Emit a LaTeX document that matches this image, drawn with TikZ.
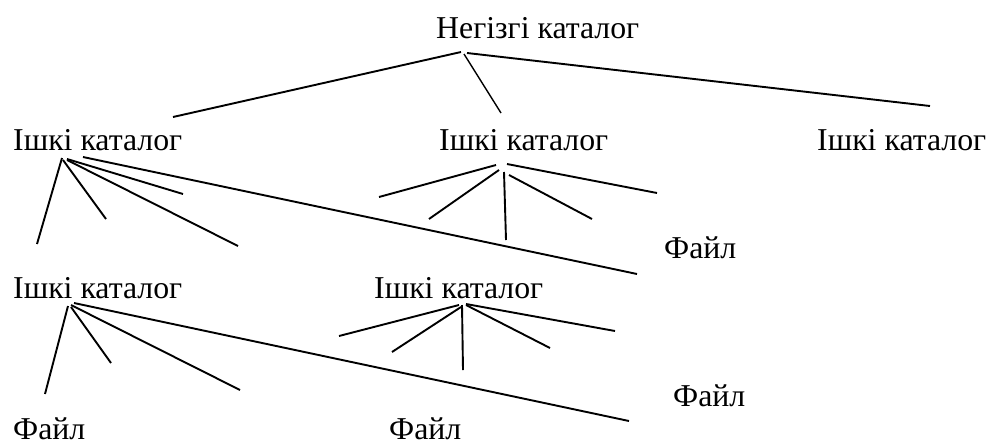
\documentclass[tikz,border=0pt]{standalone}
\usepackage{fontspec}
\setmainfont{Liberation Serif}
\begin{document}
\begin{tikzpicture}[x=1pt,y=-1pt,
  lbl/.style={inner sep=0pt,anchor=base west,font=\fontsize{31.8}{38}\selectfont},
  branch/.style={line width=1.9pt,line cap=butt}]
\useasboundingbox (0,0) rectangle (987,445);
% texts
\node[lbl] (root) at (436,38) {Негізгі каталог};
\node[lbl] (ia) at (13,150) {Ішкі каталог};
\node[lbl] (ib) at (439,150) {Ішкі каталог};
\node[lbl] (ic) at (817,150) {Ішкі каталог};
\node[lbl] (id) at (13,298) {Ішкі каталог};
\node[lbl] (ie) at (374,298) {Ішкі каталог};
\node[lbl] (fa) at (664,258) {Файл};
\node[lbl] (fb) at (673,406) {Файл};
\node[lbl] (fc) at (13,439) {Файл};
\node[lbl] (fd) at (389,439) {Файл};
% root branches
\coordinate (r1s) at (461,52); \coordinate (r1e) at (173,117);
\coordinate (r2s) at (464,54); \coordinate (r2e) at (501,113);
\coordinate (r3s) at (467,53); \coordinate (r3e) at (930,106);
\draw[branch] (r1s) -- (r1e);
\draw[branch,line width=1.4pt] (r2s) -- (r2e);
\draw[branch] (r3s) -- (r3e);
% ia branches
\coordinate (a1s) at (62,158); \coordinate (a1e) at (37,244);
\coordinate (a2s) at (63,160); \coordinate (a2e) at (106,219);
\coordinate (a3s) at (67,159); \coordinate (a3e) at (183,194);
\coordinate (a4s) at (67,160); \coordinate (a4e) at (238,246);
\coordinate (a5s) at (83,157); \coordinate (a5e) at (637,274);
\draw[branch] (a1s) -- (a1e);
\draw[branch] (a2s) -- (a2e);
\draw[branch] (a3s) -- (a3e);
\draw[branch] (a4s) -- (a4e);
\draw[branch] (a5s) -- (a5e);
% ib branches
\coordinate (b1s) at (496,165); \coordinate (b1e) at (379,197);
\coordinate (b2s) at (499,170); \coordinate (b2e) at (429,219);
\coordinate (b3s) at (504,172); \coordinate (b3e) at (506,240);
\coordinate (b4s) at (509,175); \coordinate (b4e) at (592,219);
\coordinate (b5s) at (507,164); \coordinate (b5e) at (657,193);
\draw[branch] (b1s) -- (b1e);
\draw[branch] (b2s) -- (b2e);
\draw[branch] (b3s) -- (b3e);
\draw[branch] (b4s) -- (b4e);
\draw[branch] (b5s) -- (b5e);
% id branches
\coordinate (d1s) at (68,306); \coordinate (d1e) at (45,394);
\coordinate (d2s) at (71,307); \coordinate (d2e) at (111,363);
\coordinate (d3s) at (71,305); \coordinate (d3e) at (240,390);
\coordinate (d4s) at (74,303); \coordinate (d4e) at (629,421);
\draw[branch] (d1s) -- (d1e);
\draw[branch] (d2s) -- (d2e);
\draw[branch] (d3s) -- (d3e);
\draw[branch] (d4s) -- (d4e);
% ie branches
\coordinate (e1s) at (459,305); \coordinate (e1e) at (339,336);
\coordinate (e2s) at (461,307); \coordinate (e2e) at (392,352);
\coordinate (e3s) at (462,305); \coordinate (e3e) at (463,370);
\coordinate (e4s) at (466,305); \coordinate (e4e) at (550,348);
\coordinate (e5s) at (466,304); \coordinate (e5e) at (615,331);
\draw[branch] (e1s) -- (e1e);
\draw[branch] (e2s) -- (e2e);
\draw[branch] (e3s) -- (e3e);
\draw[branch] (e4s) -- (e4e);
\draw[branch] (e5s) -- (e5e);
\end{tikzpicture}
\end{document}
